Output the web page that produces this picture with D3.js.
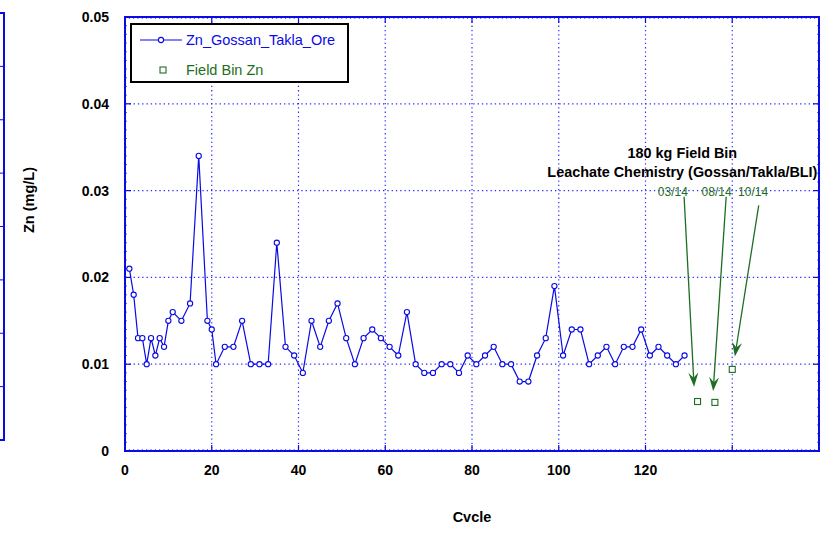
<!DOCTYPE html>
<html>
<head>
<meta charset="utf-8">
<script src="https://cdn.jsdelivr.net/npm/d3@7"></script>
<style>
  body { margin: 0; background: #fff; }
  text { font-family: "Liberation Sans", Arial, sans-serif; }
</style>
</head>
<body>
<script>
// data
const cycles = [1, 2, 3, 4, 5, 6, 7, 8, 9, 10, 11, 13, 15, 17, 19, 20, 21, 23, 25, 27, 29, 31, 33, 35, 37, 39,
    41, 43, 45, 47, 49, 51, 53, 55, 57, 59, 61, 63, 65, 67, 69, 71, 73, 75, 77, 79, 81, 83, 85, 87, 89,
    91, 93, 95, 97, 99, 101, 103, 105, 107, 109, 111, 113, 115, 117, 119, 121, 123, 125, 127, 129];
const zn = [0.021, 0.018, 0.013, 0.013, 0.010, 0.013, 0.011, 0.013, 0.012, 0.015, 0.016, 0.015, 0.017, 0.034,
    0.015, 0.014, 0.010, 0.012, 0.012, 0.015, 0.010, 0.010, 0.010, 0.024, 0.012, 0.011,
    0.009, 0.015, 0.012, 0.015, 0.017, 0.013, 0.010, 0.013, 0.014, 0.013, 0.012, 0.011, 0.016, 0.010,
    0.009, 0.009, 0.010, 0.010, 0.009, 0.011, 0.010, 0.011, 0.012, 0.010, 0.010,
    0.008, 0.008, 0.011, 0.013, 0.019, 0.011, 0.014, 0.014, 0.010, 0.011, 0.012, 0.010, 0.012,
    0.012, 0.014, 0.011, 0.012, 0.011, 0.010, 0.011];

const binCycles = [132, 136, 140];
const binZn = [0.0057, 0.0056, 0.0094];
const binDates = ["03/14", "08/14", "10/14"];

const xTicks = [0, 20, 40, 60, 80, 100, 120, 140, 160];
const xTickLabels = ["0", "20", "40", "60", "80", "100", "120", "", ""];
const yTicks = [0, 0.01, 0.02, 0.03, 0.04, 0.05];
const yTickLabels = ["0", "0.01", "0.02", "0.03", "0.04", "0.05"];

const seriesName = "Zn_Gossan_Takla_Ore";
const binName = "Field Bin Zn";
const noteTitle = ["180 kg Field Bin", "Leachate Chemistry (Gossan/Takla/BLI)"];

const blue = "#0a0ae6", green = "#1d6e22";

const wSvg = 827, hSvg = 534;
const pLeft = 125, pRight = 819, pTop = 17, pBottom = 451;

const svg = d3.select("body").append("svg")
    .attr("width", wSvg)
    .attr("height", hSvg);

const x = d3.scaleLinear().domain([0, 160]).range([pLeft, pRight]);
const y = d3.scaleLinear().domain([0, 0.05]).range([pBottom, pTop]);

// cut-off frame of the neighbouring panel at the far left
const yLeft = d3.scaleLinear().domain([0, 8]).range([440, 13]);
svg.append("path")
    .attr("d", `M0,${yLeft(8)}H4V${yLeft(0)}H0`)
    .attr("fill", "none").attr("stroke", blue).attr("stroke-width", 2);
svg.selectAll(".lt").data(d3.range(1, 8)).enter().append("line")
    .attr("x1", 0).attr("x2", 4)
    .attr("y1", d => yLeft(d)).attr("y2", d => yLeft(d))
    .attr("stroke", blue).attr("stroke-width", 1);

// dotted grid
const grid = svg.append("g")
    .attr("stroke", "#2a2aff").attr("stroke-width", 1.2).attr("stroke-dasharray", "1.3,3");
grid.selectAll(".gx").data(xTicks.slice(1, -1)).enter().append("line")
    .attr("x1", d => x(d)).attr("x2", d => x(d))
    .attr("y1", pTop).attr("y2", pBottom);
grid.selectAll(".gy").data(yTicks.slice(1, -1)).enter().append("line")
    .attr("x1", pLeft).attr("x2", pRight)
    .attr("y1", d => y(d)).attr("y2", d => y(d));

// minor ticks on the frame
const minor = svg.append("g").attr("stroke", "#5a5aff").attr("stroke-width", 1);
minor.selectAll(".mx").data(d3.range(0, 161)).enter().append("line")
    .attr("x1", d => x(d)).attr("x2", d => x(d))
    .attr("y1", pBottom).attr("y2", pBottom - 2);
minor.selectAll(".mx2").data(d3.range(0, 161)).enter().append("line")
    .attr("x1", d => x(d)).attr("x2", d => x(d))
    .attr("y1", pTop).attr("y2", pTop + 2);
minor.selectAll(".my").data(d3.range(0, 51)).enter().append("line")
    .attr("x1", pLeft).attr("x2", pLeft + 2)
    .attr("y1", d => y(d / 1000)).attr("y2", d => y(d / 1000));
minor.selectAll(".my2").data(d3.range(0, 51)).enter().append("line")
    .attr("x1", pRight).attr("x2", pRight - 2)
    .attr("y1", d => y(d / 1000)).attr("y2", d => y(d / 1000));

// major ticks
const major = svg.append("g").attr("stroke", blue).attr("stroke-width", 1.2);
major.selectAll(".tx").data(xTicks).enter().append("line")
    .attr("x1", d => x(d)).attr("x2", d => x(d)).attr("y1", pBottom).attr("y2", pBottom - 6);
major.selectAll(".tx2").data(xTicks).enter().append("line")
    .attr("x1", d => x(d)).attr("x2", d => x(d)).attr("y1", pTop).attr("y2", pTop + 6);
major.selectAll(".ty").data(yTicks).enter().append("line")
    .attr("x1", pLeft).attr("x2", pLeft + 6).attr("y1", d => y(d)).attr("y2", d => y(d));
major.selectAll(".ty2").data(yTicks).enter().append("line")
    .attr("x1", pRight).attr("x2", pRight - 6).attr("y1", d => y(d)).attr("y2", d => y(d));

// frame
svg.append("rect")
    .attr("x", pLeft).attr("y", pTop)
    .attr("width", pRight - pLeft).attr("height", pBottom - pTop)
    .attr("fill", "none").attr("stroke", blue).attr("stroke-width", 2);

// tick labels
svg.selectAll(".xl").data(xTicks).enter().append("text")
    .attr("x", d => x(d)).attr("y", 475)
    .attr("text-anchor", "middle")
    .style("font-size", "14px").style("font-weight", "bold")
    .text((d, i) => xTickLabels[i]);
svg.selectAll(".yl").data(yTicks).enter().append("text")
    .attr("x", 109).attr("y", d => y(d) + 5)
    .attr("text-anchor", "end")
    .style("font-size", "14px").style("font-weight", "bold")
    .text((d, i) => yTickLabels[i]);

// axis titles
svg.append("text")
    .attr("x", 472).attr("y", 522)
    .attr("text-anchor", "middle")
    .style("font-size", "14.5px").style("font-weight", "bold")
    .text("Cvcle");
svg.append("text")
    .attr("transform", "translate(34,200) rotate(-90)")
    .attr("text-anchor", "middle")
    .style("font-size", "14.5px").style("font-weight", "bold")
    .text("Zn (mg/L)");

// series line
const pts = cycles.map((c, i) => [c, zn[i]]);
const line = d3.line().x(d => x(d[0])).y(d => y(d[1]));
svg.append("path")
    .datum(pts)
    .attr("d", line)
    .attr("fill", "none").attr("stroke", blue).attr("stroke-width", 1.2);
svg.selectAll(".pt").data(pts).enter().append("circle")
    .attr("cx", d => x(d[0])).attr("cy", d => y(d[1]))
    .attr("r", 2.6)
    .attr("fill", "#fff").attr("stroke", blue).attr("stroke-width", 1.1);

// field bin squares
const bins = binCycles.map((c, i) => [c, binZn[i]]);
svg.selectAll(".bin").data(bins).enter().append("rect")
    .attr("x", d => x(d[0]) - 3).attr("y", d => y(d[1]) - 3)
    .attr("width", 6).attr("height", 6)
    .attr("fill", "#fff").attr("stroke", green).attr("stroke-width", 1.1);

// annotation: title, dates and arrows (in data units)
svg.selectAll(".nt").data(noteTitle).enter().append("text")
    .attr("x", x(128.5)).attr("y", (d, i) => y(0.0337) + i * 18.5)
    .attr("text-anchor", "middle")
    .style("font-size", "14.4px").style("font-weight", "bold")
    .text(d => d);

const labelX = [126.3, 136.4, 144.8];
const arrowFrom = [[128.9, 0.0293], [138.6, 0.0293], [146.1, 0.0283]];
const arrowTo = [[131.2, 0.0074], [135.6, 0.0069], [140.6, 0.0109]];

svg.selectAll(".dl").data(binDates).enter().append("text")
    .attr("x", (d, i) => x(labelX[i])).attr("y", y(0.0298) + 4)
    .attr("text-anchor", "middle")
    .style("font-size", "12px").attr("fill", green)
    .text(d => d);

arrowFrom.forEach((f, i) => {
    const x0 = x(f[0]), y0 = y(f[1]);
    const x1 = x(arrowTo[i][0]), y1 = y(arrowTo[i][1]);
    const ang = Math.atan2(y1 - y0, x1 - x0);
    const len = 14, half = 5, notch = 9;
    const ux = Math.cos(ang), uy = Math.sin(ang);
    const px = -uy, py = ux;
    svg.append("line")
        .attr("x1", x0).attr("y1", y0)
        .attr("x2", x1 - ux * notch).attr("y2", y1 - uy * notch)
        .attr("stroke", green).attr("stroke-width", 1.3);
    const head = [
        [x1, y1],
        [x1 - ux * len + px * half, y1 - uy * len + py * half],
        [x1 - ux * notch, y1 - uy * notch],
        [x1 - ux * len - px * half, y1 - uy * len - py * half]
    ];
    svg.append("path")
        .attr("d", "M" + head.map(p => p.join(",")).join("L") + "Z")
        .attr("fill", green);
});

// legend
const lg = svg.append("g");
lg.append("rect")
    .attr("x", 131).attr("y", 24).attr("width", 217).attr("height", 58)
    .attr("fill", "#fff").attr("stroke", "#000").attr("stroke-width", 2);
lg.append("line")
    .attr("x1", 140).attr("x2", 182).attr("y1", 40).attr("y2", 40)
    .attr("stroke", blue).attr("stroke-width", 1.2);
lg.append("circle")
    .attr("cx", 161).attr("cy", 40).attr("r", 2.6)
    .attr("fill", "#fff").attr("stroke", blue).attr("stroke-width", 1.1);
lg.append("text")
    .attr("x", 186).attr("y", 45)
    .style("font-size", "14.5px").attr("fill", blue)
    .text(seriesName);
lg.append("rect")
    .attr("x", 160).attr("y", 67).attr("width", 6).attr("height", 6)
    .attr("fill", "#fff").attr("stroke", green).attr("stroke-width", 1.1);
lg.append("text")
    .attr("x", 186).attr("y", 75)
    .style("font-size", "14.5px").attr("fill", green)
    .text(binName);
</script>
</body>
</html>
